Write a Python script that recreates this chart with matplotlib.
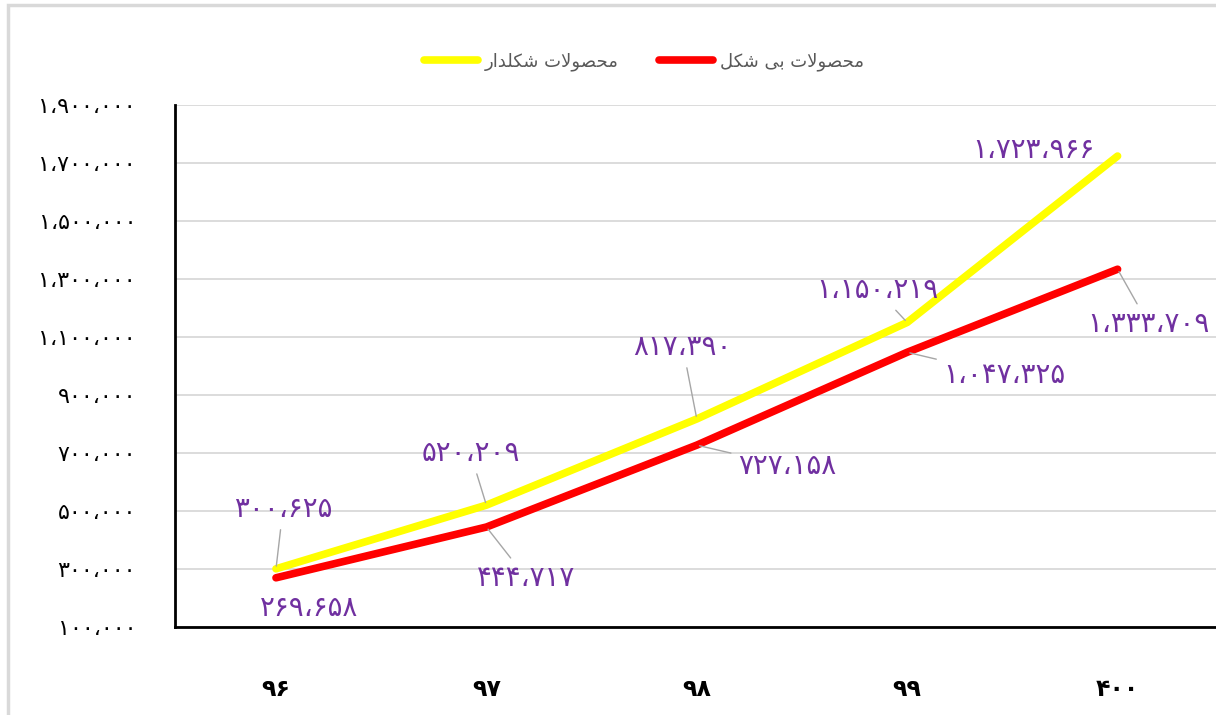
import matplotlib
matplotlib.use("Agg")
import matplotlib.pyplot as plt
from matplotlib.patches import Rectangle

# data (years in Persian digits)
years = ["۹۶", "۹۷", "۹۸", "۹۹", "۴۰۰"]
shaped_vals = [300625, 520209, 817390, 1150219, 1723966]     # محصولات شکلدار
shapeless_vals = [269658, 444717, 727158, 1047325, 1333709]  # محصولات بی شکل
yticks = [100000, 300000, 500000, 700000, 900000, 1100000, 1300000, 1500000, 1700000, 1900000]
name_shaped = "محصولات شکلدار"
name_shapeless = "محصولات بی شکل"

PURPLE = "#7030A0"
GRID = "#D9D9D9"

# minimal arabic/persian shaping: (isolated, final, initial, medial)
FORMS = {
    "ا": ("\uFE8D", "\uFE8E", None, None),
    "ب": ("\uFE8F", "\uFE90", "\uFE91", "\uFE92"),
    "ت": ("\uFE95", "\uFE96", "\uFE97", "\uFE98"),
    "ح": ("\uFEA1", "\uFEA2", "\uFEA3", "\uFEA4"),
    "د": ("\uFEA9", "\uFEAA", None, None),
    "ر": ("\uFEAD", "\uFEAE", None, None),
    "ش": ("\uFEB5", "\uFEB6", "\uFEB7", "\uFEB8"),
    "ص": ("\uFEB9", "\uFEBA", "\uFEBB", "\uFEBC"),
    "ل": ("\uFEDD", "\uFEDE", "\uFEDF", "\uFEE0"),
    "م": ("\uFEE1", "\uFEE2", "\uFEE3", "\uFEE4"),
    "و": ("\uFEED", "\uFEEE", None, None),
    "ک": ("\uFB8E", "\uFB8F", "\uFB90", "\uFB91"),
    "ی": ("\uFBFC", "\uFBFD", "\uFBFE", "\uFBFF"),
    "\uFEFB": ("\uFEFB", "\uFEFC", None, None),  # lam-alef
}


def rtl(text):
    chars = list(text.replace("لا", "\uFEFB"))
    out = []
    for i, c in enumerate(chars):
        if c not in FORMS:
            out.append(c)
            continue
        prev = chars[i - 1] if i > 0 else None
        nxt = chars[i + 1] if i + 1 < len(chars) else None
        jp = prev in FORMS and FORMS[prev][2] is not None
        jn = nxt in FORMS and FORMS[c][2] is not None
        iso, fin, ini, med = FORMS[c]
        out.append(med if jp and jn else fin if jp else ini if jn else iso)
    return "".join(reversed(out))


def fa(n):
    s = f"{n:,}".replace(",", "،")
    return s.translate(str.maketrans("0123456789", "۰۱۲۳۴۵۶۷۸۹"))


plt.rcParams["font.family"] = ["DejaVu Sans"]

fig = plt.figure(figsize=(12.16, 7.15), dpi=100)
ax = fig.add_axes([175 / 1216, 1 - 627 / 715, 1052 / 1216, 522 / 715])
fig.patches.append(Rectangle((8 / 1216, -0.1), 1.2, 1 - 5 / 715 + 0.1, transform=fig.transFigure,
                             fill=False, edgecolor=GRID, lw=2.5))

x = range(len(years))
l1, = ax.plot(x, shaped_vals, color="#FFFF00", lw=5.5, solid_capstyle="round", zorder=3)
l2, = ax.plot(x, shapeless_vals, color="#FF0000", lw=5.5, solid_capstyle="round", zorder=3)

ax.set_xlim(-0.48, 4.52)
ax.set_ylim(100000, 1900000)
ax.set_yticks(yticks)
ax.set_yticklabels([fa(v) for v in yticks])
ax.set_xticks(list(x))
ax.set_xticklabels(years, fontweight="bold")
ax.tick_params(axis="y", length=0, pad=28, labelsize=16)
ax.tick_params(axis="x", length=0, pad=36, labelsize=17)
ax.grid(axis="y", color=GRID, lw=1.3)
ax.set_axisbelow(True)
for s in ["top", "right"]:
    ax.spines[s].set_visible(False)
for s in ["left", "bottom"]:
    ax.spines[s].set_linewidth(2)

# data label offsets (pixels) relative to each point
off_shaped = [(7, 60), (-16, 52), (-14, 72), (-30, 32), (-84, 6)]
off_shapeless = [(33, -30), (40, -51), (90, -21), (97, -23), (31, -55)]
arrow = dict(arrowstyle="-", color="#A6A6A6", lw=1, shrinkA=3, shrinkB=2)
for i, v in enumerate(shaped_vals):
    ax.annotate(fa(v), (i, v), xytext=off_shaped[i], textcoords="offset pixels",
                ha="center", va="center", color=PURPLE, fontsize=20,
                arrowprops=arrow if i < 4 else None, zorder=4)
for i, v in enumerate(shapeless_vals):
    ax.annotate(fa(v), (i, v), xytext=off_shapeless[i], textcoords="offset pixels",
                ha="center", va="center", color=PURPLE, fontsize=20,
                arrowprops=arrow if i > 0 else None, zorder=4)

fig.legend([l1, l2], [rtl(name_shaped), rtl(name_shapeless)], loc="center",
           bbox_to_anchor=(644 / 1216, 1 - 62 / 715), ncol=2, frameon=False,
           handlelength=3.0, columnspacing=2.2, handletextpad=0.4,
           prop={"size": 13}, labelcolor="#595959")

fig.savefig("out.png", dpi=100, facecolor="white")
